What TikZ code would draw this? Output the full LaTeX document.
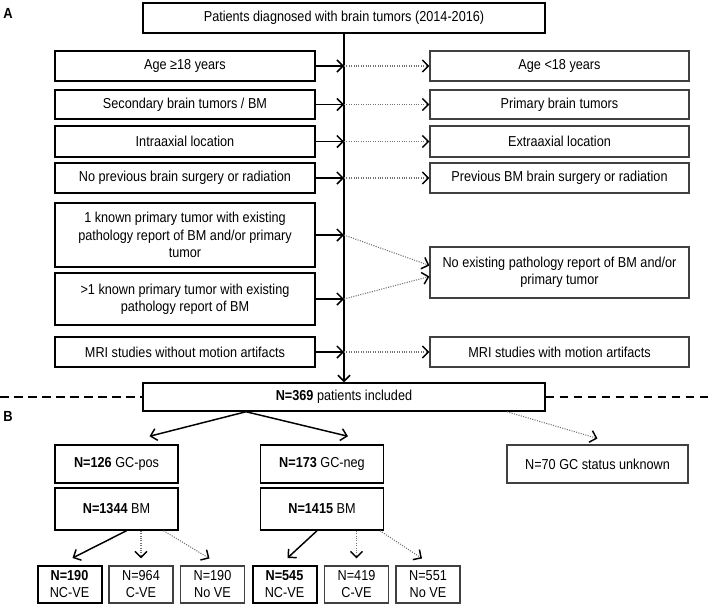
\documentclass[tikz,border=0pt]{standalone}
\usepackage{fontspec}
\setmainfont{Liberation Sans}[FakeStretch=0.88]
\usepackage{tikz}
\usetikzlibrary{positioning, arrows.meta, calc}

\begin{document}
\begin{tikzpicture}[x=0.75pt, y=-0.75pt,
    box/.style={draw, line width=1.1pt, inner sep=0pt, align=center,
        font=\fontsize{10.8}{13}\selectfont},
    lbox/.style={box, minimum width=195pt, minimum height=#1},
    lbox/.default=22.5pt,
    rbox/.style={box, draw=black!75, line width=0.8pt, minimum width=194.25pt, minimum height=#1},
    rbox/.default=22.5pt,
    wide/.style={box, minimum width=301.5pt, minimum height=#1},
    group/.style={box, minimum width=92.5pt, minimum height=#1},
    small/.style={box, draw=black!75, line width=0.8pt, minimum width=48pt, minimum height=27.75pt,
        font=\fontsize{10.8}{12.75}\selectfont},
    smallb/.style={small, draw=black, line width=1.5pt},
    arrow/.style={-{Straight Barb[length=4.5pt, width=9pt]}, line width=1.1pt},
    dotarrow/.style={-{Straight Barb[length=4.5pt, width=9pt, color=black, line width=1.1pt]},
        densely dotted, line width=0.8pt, draw=black!55},
    sepline/.style={line width=1.5pt, dash pattern=on 6.5pt off 4pt},
    panel/.style={font=\bfseries\fontsize{11}{13}\selectfont}
]
\useasboundingbox (0,0) rectangle (708,607);

% Panel A: selection
\node[panel] (lA) at (8,13) {A};
\node[wide=22.5pt] (all) at (344,18) {Patients diagnosed with brain tumors (2014-2016)};

% Inclusion criteria
\node[lbox] (inc1) at (185,66) {Age ≥18 years};
\node[lbox=21.75pt] (inc2) at (185,104.5) {Secondary brain tumors / BM};
\node[lbox=23.25pt] (inc3) at (185,141.5) {Intraaxial location};
\node[lbox] (inc4) at (185,178) {No previous brain surgery or radiation};
\node[lbox=48pt] (inc5) at (185,235) {1 known primary tumor with existing\\pathology report of BM and/or primary\\tumor};
\node[lbox=39pt] (inc6) at (185,299) {>1 known primary tumor with existing\\pathology report of BM};
\node[lbox] (inc7) at (185,352) {MRI studies without motion artifacts};

% Exclusion criteria
\node[rbox] (exc1) at (559.5,66) {Age <18 years};
\node[rbox=21.75pt] (exc2) at (559.5,104.5) {Primary brain tumors};
\node[rbox=23.25pt] (exc3) at (559.5,141.5) {Extraaxial location};
\node[rbox] (exc4) at (559.5,178) {Previous BM brain surgery or radiation};
\node[rbox=38.25pt] (exc5) at (559.5,272.5) {No existing pathology report of BM and/or\\primary tumor};
\node[rbox] (exc7) at (559.5,352) {MRI studies with motion artifacts};

\node[wide=21pt] (incl) at (344,397) {\textbf{N=369} patients included};

% Main line and criteria arrows
\draw[arrow] (all) -- (incl);
\foreach \i in {1,...,7}
    \coordinate (j\i) at (all.south |- inc\i.east);
\foreach \i in {1,...,7}
    \draw[arrow] (inc\i) -- (j\i);
\foreach \i in {1,2,3,4,7}
    \draw[dotarrow] (j\i) -- (exc\i);
\draw[dotarrow] (j5) -- ($(exc5.west)+(0,-7)$);
\draw[dotarrow] (j6) -- ($(exc5.west)+(0,4)$);

% Separator
\coordinate (sepl) at (0,397);
\coordinate (sepr) at (708,397);
\draw[sepline] (sepl) -- (incl);
\draw[sepline] (incl) -- (sepr);

% Panel B: groups
\node[panel] (lB) at (8,416) {B};
\node[group=28.5pt] (gcpos) at (116.5,464) {\textbf{N=126} GC-pos};
\node[group=28.5pt] (gcneg) at (322,464) {\textbf{N=173} GC-neg};
\node[rbox=28.5pt, minimum width=135.75pt] (gcna) at (597.5,464) {N=70 GC status unknown};
\node[group=31.5pt] (bmpos) at (116.5,509) {\textbf{N=1344} BM};
\node[group=31.5pt] (bmneg) at (322,509) {\textbf{N=1415} BM};

\draw[arrow] ($(incl.south)+(-98,0)$) -- ($(gcpos.north)+(33,-8)$);
\draw[arrow] ($(incl.south)+(-98,0)$) -- ($(gcneg.north)+(26,-8)$);
\draw[dotarrow] ($(incl.south)+(163,0)$) -- ($(gcna.north)+(0,-6)$);

% Enhancement types
\node[smallb] (ncpos) at (69.5,584.5) {\textbf{N=190}\\NC-VE};
\node[small] (cpos) at (141,584.5) {N=964\\C-VE};
\node[small] (nopos) at (212.5,584.5) {N=190\\No VE};
\node[smallb] (ncneg) at (284.5,584.5) {\textbf{N=545}\\NC-VE};
\node[small] (cneg) at (356.5,584.5) {N=419\\C-VE};
\node[small] (noneg) at (428,584.5) {N=551\\No VE};

\draw[arrow] ($(bmpos.south)+(10,0)$) -- ($(ncpos.north)+(3,-7)$);
\draw[dotarrow] (cpos.north |- bmpos.south) -- ($(cpos.north)+(0,-7)$);
\draw[dotarrow] ($(bmpos.south)+(47,0)$) -- ($(nopos.north)+(-3,-7)$);
\draw[arrow] ($(bmneg.south)+(-5,0)$) -- ($(ncneg.north)+(3,-7)$);
\draw[dotarrow] (cneg.north |- bmneg.south) -- ($(cneg.north)+(0,-7)$);
\draw[dotarrow] ($(bmneg.south)+(58,0)$) -- ($(noneg.north)+(-6,-7)$);

\end{tikzpicture}
\end{document}
